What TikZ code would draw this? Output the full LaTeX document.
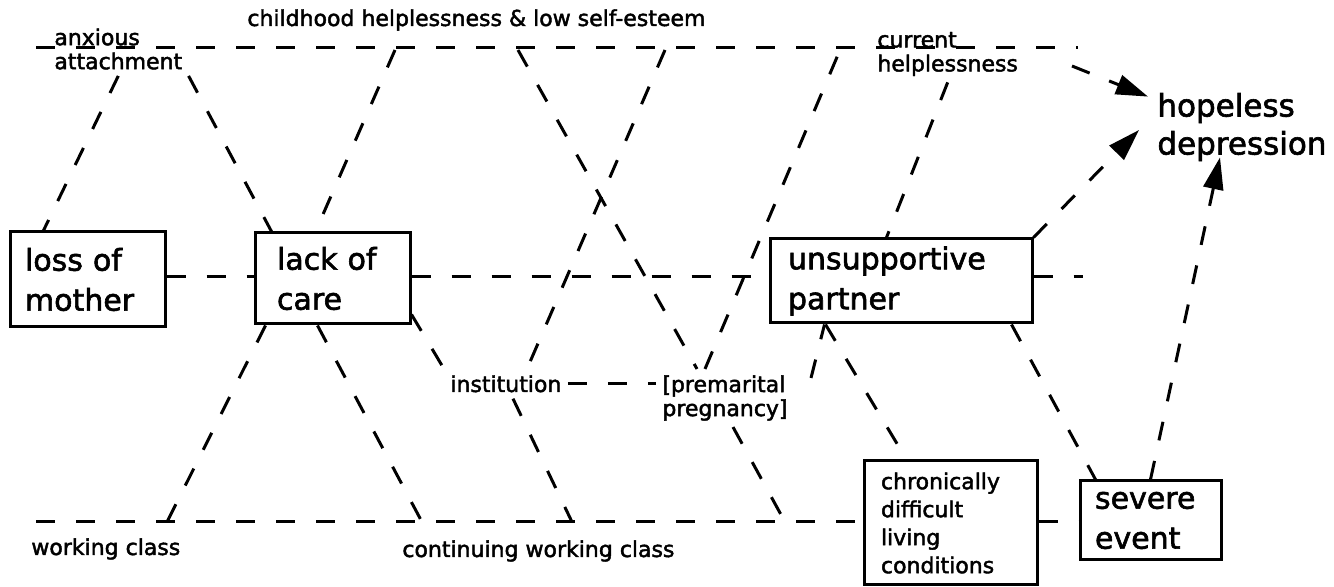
\documentclass[tikz,border=0pt]{standalone}
\usepackage{fontspec}
\setmainfont{DejaVu Sans}[FakeBold=2]
\usetikzlibrary{arrows.meta,calc}
\newcommand\bigfnt{\fontsize{15}{20}\selectfont}
\newcommand\hopefnt{\fontsize{15.5}{19}\selectfont}
\newcommand\smallfnt{\fontsize{11}{12}\selectfont}
\newcommand\chrfnt{\fontsize{11}{14}\selectfont}
\tikzset{
  conn/.style={line width=1.5pt, dash pattern=on 9.5pt off 10.5pt},
  arr/.style={conn, -{Triangle[length=16pt,width=10pt]}},
  box/.style={draw, line width=1.5pt, inner sep=0pt, align=left, font=\bigfnt},
  lbl/.style={inner sep=3pt, align=left, font=\smallfnt},
}
\begin{document}
\begin{tikzpicture}[x=0.5pt,y=-0.5pt]
\fill[white] (0,0) rectangle (1334,587);
\useasboundingbox (0,0) rectangle (1334,587);
% boxes
\node[box, minimum width=77.5pt, minimum height=47.5pt, text width=62.5pt] (lossm) at (87.5,279.5) {loss of\\mother};
\node[box, minimum width=77.5pt, minimum height=45.5pt, text width=55.5pt] (lackc) at (332.5,278.5) {lack of\\care};
\node[box, minimum width=131pt, minimum height=42pt, text width=113pt] (partner) at (901,281) {unsupportive\\partner};
\node[box, font=\chrfnt, minimum width=86.5pt, minimum height=62pt, text width=69.5pt] (chronic) at (950.5,523) {chronically\\difficult\\living\\conditions};
\node[box, minimum width=70.5pt, minimum height=39.5pt, text width=55.5pt] (severe) at (1150.5,520.5) {severe\\event};
% labels
\node[lbl, anchor=west] (anx) at (48,49) {anxious\\attachment};
\node[lbl, anchor=base west] (child) at (241,26) {childhood helplessness \& low self-esteem};
\node[lbl, anchor=west] (cur) at (871,54) {current\\helplessness};
\node[lbl, font=\hopefnt, anchor=west] (hope) at (1151,127) {hopeless\\depression};
\node[lbl, anchor=base west] (inst) at (444,392) {institution};
\node[lbl, anchor=west] (preg) at (656,398) {[premarital\\pregnancy]};
\node[lbl, anchor=base west] (wc) at (25,555) {working class};
\node[lbl, anchor=base west] (cwc) at (396,557) {continuing working class};
% free ends
\coordinate (tl0) at (36,48);
\coordinate (tl1) at (1078,48);
\coordinate (t3) at (395,50);
\coordinate (t4) at (518,50);
\coordinate (t5) at (665,50);
\coordinate (t9) at (840,50);
\coordinate (ml1) at (1083,277);
\coordinate (bl0) at (36,522);
\coordinate (b18) at (167,522);
\coordinate (b19) at (422,522);
\coordinate (b7) at (572,522);
\coordinate (b10) at (785,522);
\coordinate (p11) at (811,378);
\coordinate (a16) at (1072,66);
% horizontal lines
\draw[conn] (tl0) -- (tl1);
\draw[conn] (lossm.east |- ml1) -- (lackc.west |- ml1);
\draw[conn] (lackc.east |- ml1) -- (partner.west |- ml1);
\draw[conn] (partner.east |- ml1) -- (ml1);
\draw[conn] (bl0) -- (chronic.west |- bl0);
\draw[conn] (chronic.east |- bl0) -- (severe.west |- bl0);
\draw[conn] (inst.east) -- (inst.east -| preg.west);
% diagonals
\draw[conn] (anx.south) -- ($(lossm.north west)+(35,0)$);
\draw[conn] (anx.south east) -- ($(lackc.north west)+(18,0)$);
\draw[conn] (t3) -- ($(lackc.north west)+(62,0)$);
\draw[conn] (t4) -- ($(preg.north west)+(41,0)$);
\draw[conn] (t5) -- ($(inst.north west)+(83,0)$);
\draw[conn] ($(lackc.south east)+(0,-11)$) -- (inst.north west);
\draw[conn] ($(inst.south west)+(69,0)$) -- (b7);
\draw[conn] ($(preg.north west)+(49,0)$) -- (t9);
\draw[conn] ($(preg.south west)+(77,0)$) -- (b10);
\draw[conn] (p11) -- ($(partner.south west)+(56,0)$);
\draw[conn] ($(partner.south west)+(57,0)$) -- ($(chronic.north west)+(44,0)$);
\draw[conn] ($(partner.south west)+(243,0)$) -- ($(severe.north west)+(17,0)$);
\draw[conn] (cur.south) -- ($(partner.north west)+(118,0)$);
\draw[conn] ($(lackc.south west)+(12,0)$) -- (b18);
\draw[conn] ($(lackc.south west)+(64,0)$) -- (b19);
% arrows
\draw[arr] (partner.north east) -- ($(hope.west)+(-12,3)$);
\draw[arr] (a16) -- ($(hope.north west)+(-3,10)$);
\draw[arr] (severe.north) -- ($(hope.south west)+(69,-10)$);
\end{tikzpicture}
\end{document}
